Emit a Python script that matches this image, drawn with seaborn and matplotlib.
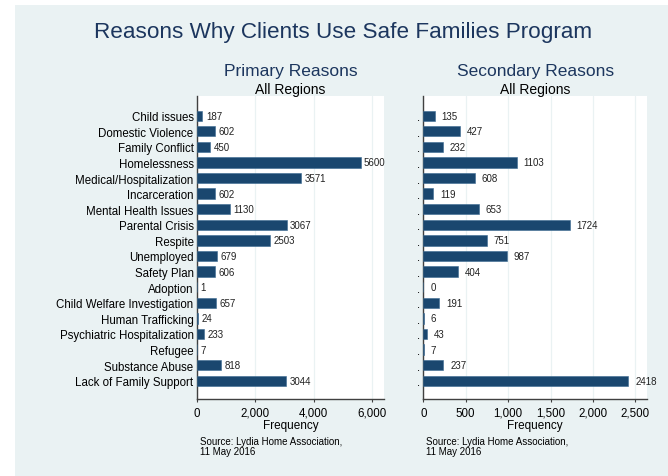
#!/usr/bin/env python3
"""Reasons Why Clients Use Safe Families Program - Stata style hbar recreation"""

import pandas as pd
import matplotlib
matplotlib.use("Agg")
import matplotlib.pyplot as plt
import seaborn as sns
from matplotlib.patches import Rectangle
from matplotlib.ticker import FuncFormatter

reasons = [
    "Child issues", "Domestic Violence", "Family Conflict", "Homelessness",
    "Medical/Hospitalization", "Incarceration", "Mental Health Issues",
    "Parental Crisis", "Respite", "Unemployed", "Safety Plan", "Adoption",
    "Child Welfare Investigation", "Human Trafficking",
    "Psychiatric Hospitalization", "Refugee", "Substance Abuse",
    "Lack of Family Support",
]
primary = [187, 602, 450, 5600, 3571, 602, 1130, 3067, 2503, 679, 606, 1,
           657, 24, 233, 7, 818, 3044]
secondary = [135, 427, 232, 1103, 608, 119, 653, 1724, 751, 987, 404, 0,
             191, 6, 43, 7, 237, 2418]

primary_ticks = [0, 2000, 4000, 6000]
secondary_ticks = [0, 500, 1000, 1500, 2000, 2500]

BG = "#EAF2F3"
BAR = "#1a476f"
NAVY = "#1c365e"
AXIS = "#404040"

sns.set_theme(style="white")
plt.rcParams["font.family"] = ["Liberation Sans", "DejaVu Sans"]

df = pd.DataFrame({"reason": reasons, "primary": primary, "secondary": secondary})

fig = plt.figure(figsize=(6.68, 4.77), dpi=100, facecolor="white")
fig.patches.append(Rectangle((15 / 668, 0), 1, (477 - 6) / 477,
                             transform=fig.transFigure, facecolor=BG,
                             edgecolor="none", zorder=-10))

ax1 = fig.add_axes([197 / 668, 77 / 477, 187 / 668, 303 / 477])
ax2 = fig.add_axes([423.3 / 668, 77 / 477, 224 / 668, 303 / 477])

panels = [
    (ax1, "primary", primary_ticks, 6404, 2.5, "Primary Reasons", reasons),
    (ax2, "secondary", secondary_ticks, 2641, 5.0, "Secondary Reasons", ["."] * len(reasons)),
]

for ax, col, ticks, xmax, gap, sub, ylabels in panels:
    ax.set_facecolor("white")
    sns.barplot(data=df, x=col, y="reason", orient="h", color=BAR,
                width=0.66, saturation=1, edgecolor="#3a6a92", linewidth=0.4,
                ax=ax, zorder=3)
    ax.set_xlim(0, xmax)
    ax.set_ylim(17 + 1.17, -1.26)
    ax.set_xticks(ticks)
    ax.xaxis.set_major_formatter(FuncFormatter(lambda v, p: f"{int(v):,}"))
    ax.set_yticks(range(len(reasons)))
    ax.set_yticklabels(ylabels)
    ax.grid(axis="x", color=BG, linewidth=0.9, zorder=0)
    ax.grid(axis="y", visible=False)
    for s in ["top", "right"]:
        ax.spines[s].set_visible(False)
    for s in ["left", "bottom"]:
        ax.spines[s].set_visible(True)
        ax.spines[s].set_color(AXIS)
        ax.spines[s].set_linewidth(1.0)
    ax.tick_params(axis="x", direction="out", length=2.5, width=0.8,
                   color=AXIS, pad=3, labelsize=8.3, labelcolor="black",
                   bottom=True)
    ax.tick_params(axis="y", length=0, pad=2.5, labelsize=8.3,
                   labelcolor="black")
    ax.set_xlabel("Frequency", fontsize=8.5, labelpad=0, color="black")
    ax.set_ylabel("")

    for i, v in enumerate(df[col]):
        ax.annotate(f"{v}", xy=(v, i), xytext=(gap, 0),
                    textcoords="offset points", va="center", ha="left",
                    fontsize=7, color="#222222")

    pos = ax.get_position()
    cx = (pos.x0 + pos.x1) / 2
    fig.text(cx, (477 - 75.7) / 477, sub, ha="center", va="baseline",
             fontsize=12.5, color=NAVY)
    fig.text(cx, (477 - 94.3) / 477, "All Regions", ha="center",
             va="baseline", fontsize=10, color="black")
    fig.text(pos.x0 + 3 / 668, (477 - 437) / 477,
             "Source: Lydia Home Association,\n11 May 2016", ha="left",
             va="top", fontsize=7, color="black", linespacing=1.0)

fig.text(343.5 / 668, (477 - 38.3) / 477,
         "Reasons Why Clients Use Safe Families Program",
         ha="center", va="baseline", fontsize=16.2, color=NAVY)

fig.savefig("out.png", dpi=100, facecolor=fig.get_facecolor())
